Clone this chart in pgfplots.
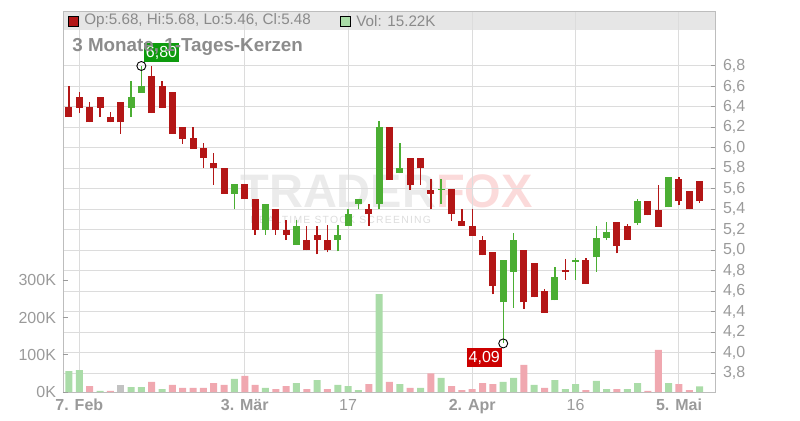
\documentclass[border=0pt]{standalone}
\usepackage{fontspec}
\setmainfont{Liberation Sans}
\newfontfamily\wmfont[LetterSpace=12]{Liberation Sans}
\usepackage{pgfplots}
\usepackage{pgfplotstable}
\pgfplotsset{compat=1.18}

\definecolor{cred}{HTML}{B31616}
\definecolor{cgreen}{HTML}{4BAE33}
\definecolor{vgreen}{HTML}{AADCA8}
\definecolor{vred}{HTML}{F0A8B0}
\definecolor{vgray}{HTML}{C2C2C2}
\definecolor{lblgreen}{HTML}{0E9B0E}
\definecolor{lblred}{HTML}{CC0000}
\definecolor{labelgray}{HTML}{9A9A9A}
\definecolor{titlegray}{HTML}{8C8C8C}
\definecolor{headgray}{HTML}{8A8A8A}
\definecolor{bandgray}{HTML}{E6E6E6}
\definecolor{gridgray}{HTML}{DCDCDC}
\definecolor{framegray}{HTML}{BDBDBD}
\definecolor{wmgray}{HTML}{EBEBEB}
\definecolor{wmpink}{HTML}{FBDADA}
\definecolor{wmtext}{HTML}{DDDDDD}

% rising candles: index, open, high, low, close
\pgfplotstableread{
x o h l c
6 6.39 6.65 6.30 6.50
7 6.54 6.80 6.54 6.60
16 5.55 5.65 5.40 5.65
19 5.20 5.45 5.15 5.45
22 5.05 5.30 5.05 5.24
26 5.10 5.25 4.99 5.15
27 5.24 5.40 5.24 5.35
28 5.45 5.50 5.40 5.50
30 5.45 6.26 5.40 6.20
32 5.75 6.05 5.75 5.80
36 5.59 5.70 5.45 5.60
42 4.49 4.90 4.09 4.90
43 4.79 5.17 4.44 5.10
47 4.51 4.84 4.51 4.74
49 4.89 4.92 4.71 4.90
51 4.93 5.24 4.79 5.12
52 5.12 5.28 5.10 5.18
55 5.27 5.50 5.25 5.48
58 5.42 5.72 5.42 5.72
}\upc

% falling candles
\pgfplotstableread{
x o h l c
0 6.40 6.60 6.30 6.30
1 6.50 6.55 6.34 6.39
2 6.40 6.45 6.25 6.25
3 6.50 6.50 6.30 6.39
4 6.30 6.35 6.25 6.25
5 6.45 6.45 6.14 6.25
8 6.70 6.80 6.34 6.34
9 6.60 6.65 6.39 6.39
10 6.55 6.55 6.14 6.14
11 6.20 6.20 6.04 6.09
12 6.10 6.20 5.99 5.99
13 6.00 6.05 5.80 5.90
14 5.85 5.95 5.64 5.80
15 5.80 5.80 5.55 5.55
17 5.65 5.65 5.50 5.50
18 5.50 5.50 5.15 5.20
20 5.40 5.40 5.15 5.20
21 5.20 5.30 5.10 5.15
23 5.10 5.24 5.00 5.00
24 5.15 5.24 4.96 5.10
25 5.10 5.25 4.98 5.00
29 5.40 5.45 5.24 5.35
31 6.20 6.20 5.69 5.69
33 5.90 5.90 5.59 5.64
34 5.90 5.90 5.64 5.80
35 5.59 5.70 5.40 5.55
37 5.60 5.60 5.29 5.35
38 5.29 5.40 5.24 5.24
39 5.24 5.40 5.14 5.14
40 5.10 5.14 4.95 4.95
41 4.98 4.98 4.57 4.65
44 5.00 5.00 4.43 4.49
45 4.88 4.88 4.54 4.54
46 4.60 4.62 4.39 4.39
48 4.81 4.91 4.71 4.79
50 4.90 4.92 4.67 4.67
53 5.28 5.28 4.97 5.04
54 5.24 5.26 5.10 5.10
56 5.48 5.48 5.34 5.34
57 5.39 5.64 5.23 5.23
59 5.70 5.72 5.44 5.48
60 5.58 5.58 5.40 5.40
61 5.68 5.68 5.46 5.48
}\downc

% volumes in thousands
\pgfplotstableread{
x v
0 56
1 59
3 3
6 13
7 13
9 8
16 35
19 11
22 24
24 32
26 19
27 16
28 5
30 263
32 21
34 11
36 38
42 27
43 38
45 19
47 32
48 8
49 21
51 30
52 8
54 8
55 24
58 24
61 15.22
}\volg

\pgfplotstableread{
x v
2 16
4 3
8 27
10 19
11 11
12 11
13 11
14 24
15 19
17 43
18 19
20 8
21 16
23 8
25 8
29 21
31 27
33 11
35 50
37 16
38 5
39 8
40 24
41 21
44 73
46 11
50 5
53 8
56 3
57 113
59 21
60 5
}\volr

\pgfplotstableread{
x v
5 19
}\volgray

\begin{document}
\begin{tikzpicture}[x=1pt,y=1pt]
\path[use as bounding box] (0,0) rectangle (400,210);
% header band
\fill[bandgray] (31.5,195) rectangle (358,204.5);
% watermark
\node[anchor=base west, inner sep=0, font=\fontsize{23.5}{24}\selectfont\bfseries] at (120,106.5) {\textcolor{wmgray}{TRADER}\textcolor{wmpink}{FOX}};
\node[anchor=base west, inner sep=0, font=\fontsize{5.2}{6}\wmfont, text=wmtext] at (125,98.5) {REALTIME STOCK SCREENING};

\begin{axis}[
  at={(31.5pt,14pt)}, anchor=south west, scale only axis,
  width=326.5pt, height=190.5pt,
  xmin=-0.58, xmax=62.58, ymin=3.6154, ymax=7.337,
  clip=false,
  axis line style={draw=framegray, line width=0.5pt},
  xtick={1,17,27,39,49,59},
  xticklabels={\textbf{7. Feb},\textbf{3. Mär},17,\textbf{2. Apr},16,\textbf{5. Mai}},
  xtick pos=bottom,
  xtick style={draw=none},
  ytick={3.8,4.0,4.2,4.4,4.6,4.8,5.0,5.2,5.4,5.6,5.8,6.0,6.2,6.4,6.6,6.8},
  yticklabels={{3,8},{4,0},{4,2},{4,4},{4,6},{4,8},{5,0},{5,2},{5,4},{5,6},{5,8},{6,0},{6,2},{6,4},{6,6},{6,8}},
  ytick pos=right, yticklabel pos=right,
  tick align=inside,
  major tick length=2.3pt,
  ytick style={draw=labelgray, line width=0.5pt},
  grid=major,
  major grid style={draw=gridgray, line width=0.5pt},
  tick label style={font=\fontsize{8}{9}\selectfont, text=labelgray},
]
% wicks
\addplot[draw=none, mark=none, error bars/.cd, y dir=plus, y explicit, error mark=none,
  error bar style={draw=cgreen, line width=0.7pt}]
  table[x=x, y=l, y error plus expr={\thisrow{h}-\thisrow{l}}] {\upc};
\addplot[draw=none, mark=none, error bars/.cd, y dir=plus, y explicit, error mark=none,
  error bar style={draw=cred, line width=0.7pt}]
  table[x=x, y=l, y error plus expr={\thisrow{h}-\thisrow{l}}] {\downc};
% bodies
\addplot[draw=none, mark=none, error bars/.cd, y dir=plus, y explicit, error mark=none,
  error bar style={draw=cgreen, line width=3.5pt, line cap=butt}]
  table[x=x, y=o, y error plus expr={\thisrow{c}-\thisrow{o}}] {\upc};
\addplot[draw=none, mark=none, error bars/.cd, y dir=plus, y explicit, error mark=none,
  error bar style={draw=cred, line width=3.5pt, line cap=butt}]
  table[x=x, y=c, y error plus expr={\thisrow{o}-\thisrow{c}}] {\downc};
% high / low markers
\node[fill=lblgreen, text=white, inner sep=0pt, minimum width=17.5pt, minimum height=9.5pt,
  font=\fontsize{8}{8}\selectfont] at (axis cs:8.95,6.932) {6,80};
\node[fill=lblred, text=white, inner sep=0pt, minimum width=17.5pt, minimum height=9.5pt,
  font=\fontsize{8}{8}\selectfont] at (axis cs:40.17,3.951) {4,09};
\addplot[only marks, mark=o, mark size=2.25pt, mark options={draw=black, line width=0.45pt}]
  coordinates {(7,6.80) (42,4.09)};
\end{axis}

\begin{axis}[
  at={(31.5pt,14pt)}, anchor=south west, scale only axis,
  width=326.5pt, height=190.5pt,
  xmin=-0.58, xmax=62.58, ymin=0, ymax=1023.6,
  axis x line=none, axis y line*=left,
  y axis line style={draw=none},
  ytick={0,100,200,300}, yticklabels={0K,100K,200K,300K},
  tick align=inside, major tick length=2.3pt,
  ytick style={draw=labelgray, line width=0.5pt},
  tick label style={font=\fontsize{8}{9}\selectfont, text=labelgray},
]
\addplot[ybar, bar width=3.5pt, bar shift=0pt, fill=vgreen, draw=none] table[x=x, y=v] {\volg};
\addplot[ybar, bar width=3.5pt, bar shift=0pt, fill=vred, draw=none] table[x=x, y=v] {\volr};
\addplot[ybar, bar width=3.5pt, bar shift=0pt, fill=vgray, draw=none] table[x=x, y=v] {\volgray};
\end{axis}

% header legend
\filldraw[fill=cred, draw=black, line width=0.5pt] (34.2,196.7) rectangle (39.4,201.7);
\node[anchor=west, inner sep=0, font=\fontsize{7.6}{8}\selectfont, text=headgray] at (42,199.6) {Op:5.68, Hi:5.68, Lo:5.46, Cl:5.48};
\filldraw[fill=vgreen, draw=black, line width=0.5pt] (170.4,196.7) rectangle (175.2,201.7);
\node[anchor=west, inner sep=0, font=\fontsize{7.6}{8}\selectfont, text=headgray] at (178,199.6) {Vol: 15.22K};
% title
\node[anchor=west, inner sep=0, font=\fontsize{9.4}{10}\selectfont\bfseries, text=titlegray] at (36,186.5) {3 Monate, 1-Tages-Kerzen};
\end{tikzpicture}
\end{document}
